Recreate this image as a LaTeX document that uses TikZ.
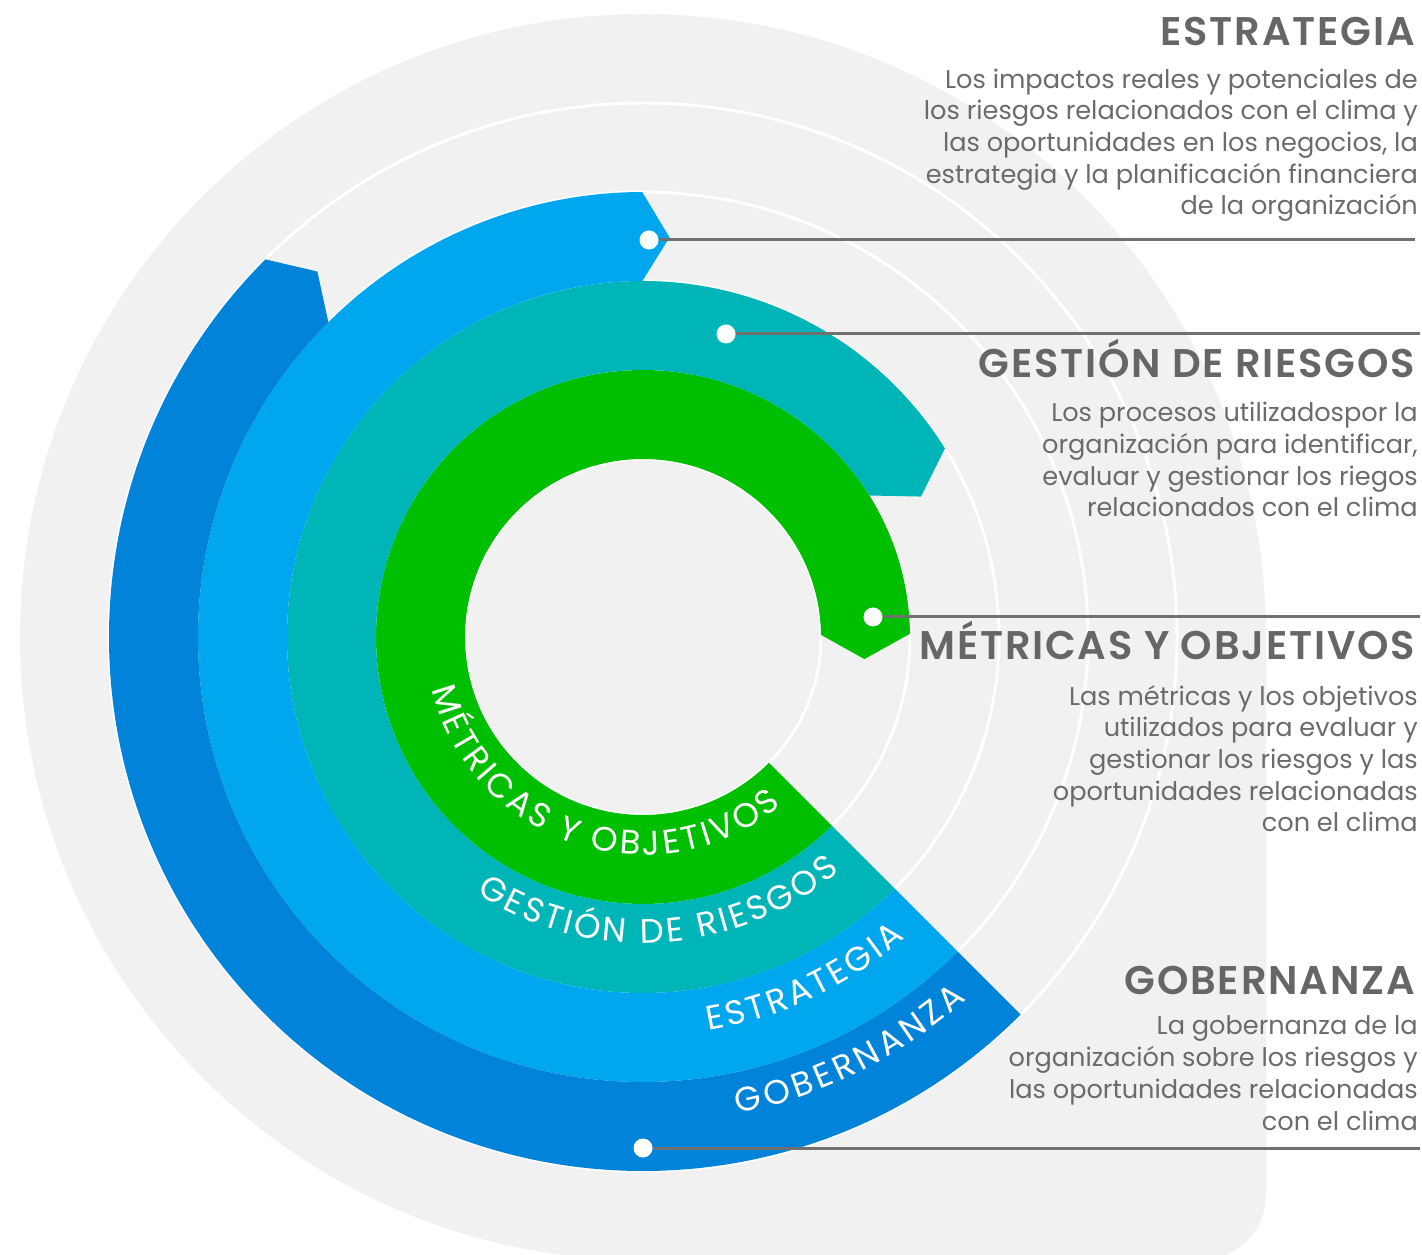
\documentclass[tikz,border=0pt]{standalone}
\usepackage{fontspec}
\setmainfont{Poppins}
\newfontfamily\headfont[LetterSpace=4.5]{Poppins SemiBold}
\usetikzlibrary{decorations.text}
\definecolor{bggray}{RGB}{241,241,241}
\definecolor{cmet}{RGB}{0,191,0}
\definecolor{cges}{RGB}{0,181,184}
\definecolor{cest}{RGB}{0,167,238}
\definecolor{cgob}{RGB}{0,131,217}
\definecolor{ctxt}{RGB}{107,107,107}
\definecolor{cline}{RGB}{112,112,112}
% band: colour, inner r, outer r, end angle, tip shift
\newcommand{\ringband}[5]{%
  \fill[#1] (-45:#2) -- (-45:#3) arc[start angle=-45, end angle={#4-360}, radius=#3pt]
    -- ({#4-360-#5}:{(#2+#3)/2}) -- ({#4-360}:#2)
    arc[start angle={#4-360}, end angle=-45, radius=#2pt] -- cycle;}
% curved label: radius, start, end, text
\newcommand{\ringlabel}[4]{%
  \path[decorate, decoration={text along path, text align=fit to path,
      text={|\fontsize{34}{34}\selectfont\color{white}|#4}}]
    (#2:#1) arc[start angle=#2, end angle=#3, radius=#1pt];}
\tikzset{
  sep/.style={white, line width=3pt},
  dot/.style={circle, fill=white, inner sep=0pt, minimum size=19pt},
  leader/.style={cline, line width=3pt},
  head/.style={font=\headfont\fontsize{40}{40}\selectfont, text=ctxt!95!black, inner sep=0pt},
  body/.style={font=\fontsize{25.6}{31.7}\selectfont, text=ctxt, align=right, inner sep=0pt},
}
\begin{document}
\begin{tikzpicture}[x=1pt, y=1pt]
\useasboundingbox (0,0) rectangle (1422,1254);
%---- background
\fill[bggray] (643,617) circle[radius=623pt];
\fill[bggray] (643,617) -- (1266,617) -- (1266,59)
  arc[start angle=0, end angle=-90, radius=65pt] -- (643,-6) -- cycle;
\begin{scope}[shift={(643,617)}]
  \foreach \r in {178,267,356,445,534}
    \draw[sep] (0,0) circle[radius=\r pt];
  %---- bands
  \ringband{cmet}{178}{267}{0.7}{6.4}
  \ringband{cges}{267}{356}{32}{5.2}
  \ringband{cest}{356}{445}{90.1}{3.9}
  \ringband{cgob}{445}{534}{135}{3.3}
  %---- curved labels
  \ringlabel{218}{-166}{-50.5}{MÉTRICAS Y OBJETIVOS}
  \ringlabel{306}{-123}{-50}{GESTIÓN DE RIESGOS}
  \ringlabel{399}{-80.6}{-49}{ESTRATEGIA}
  \ringlabel{486}{-78.8}{-48.2}{GOBERNANZA}
\end{scope}
%---- leaders
\node[dot] (dest) at (649,1014) {};
\node[dot] (dges) at (726,920) {};
\node[dot] (dmet) at (873,637) {};
\node[dot] (dgob) at (643,106) {};
\coordinate (eest) at (1415,1014);
\coordinate (eges) at (1420,920);
\coordinate (emet) at (1420,637);
\coordinate (egob) at (1420,106);
\draw[leader] (dest) -- (eest);
\draw[leader] (dges) -- (eges);
\draw[leader] (dmet) -- (emet);
\draw[leader] (dgob) -- (egob);
%---- texts
\node[head, anchor=base east] (hest) at (1415,1208) {ESTRATEGIA};
\node[body, anchor=base east] (test) at (1418,1039) {Los impactos reales y potenciales de\\
  los riesgos relacionados con el clima y\\las oportunidades en los negocios, la\\
  estrategia y la planificación financiera\\de la organización};
\node[head, anchor=base east] (hges) at (1415,876) {GESTIÓN DE RIESGOS};
\node[body, anchor=base east] (tges) at (1418,737) {Los procesos utilizadospor la\\
  organización para identificar,\\evaluar y gestionar los riegos\\relacionados con el clima};
\node[head, anchor=base east] (hmet) at (1415,594) {MÉTRICAS Y OBJETIVOS};
\node[body, anchor=base east] (tmet) at (1418,422) {Las métricas y los objetivos\\
  utilizados para evaluar y\\gestionar los riesgos y las\\oportunidades relacionadas\\con el clima};
\node[head, anchor=base east] (hgob) at (1415,259) {GOBERNANZA};
\node[body, anchor=base east] (tgob) at (1418,124) {La gobernanza de la\\
  organización sobre los riesgos y\\las oportunidades relacionadas\\con el clima};
\end{tikzpicture}
\end{document}
